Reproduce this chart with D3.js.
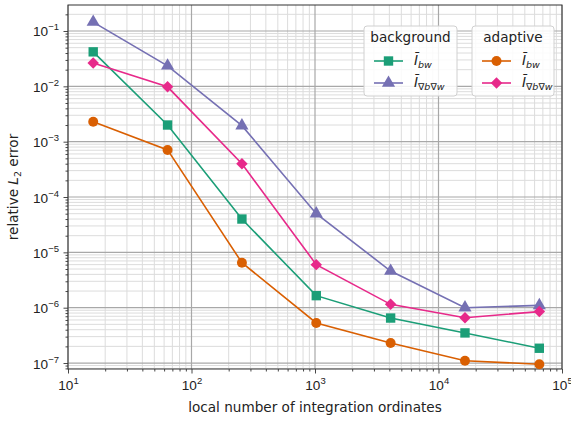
<!DOCTYPE html>
<html>
<head>
<meta charset="utf-8">
<script src="https://cdn.jsdelivr.net/npm/d3@7"></script>
<style>
  body { margin: 0; background: #fff; }
  svg { font-family: "DejaVu Sans", sans-serif; }
</style>
</head>
<body>
<svg id="chart" width="571" height="423"></svg>
<script>
// Local number of integration ordinates (4^2 ... 4^8)
const ordinates = [16, 64, 256, 1024, 4096, 16384, 65536];

// Relative L2 errors
const backgroundBw   = [4.2e-2, 2.0e-3, 4.0e-5, 1.65e-6, 6.5e-7, 3.5e-7, 1.85e-7];
const backgroundGrad = [1.45e-1, 2.35e-2, 1.95e-3, 5.0e-5, 4.6e-6, 1.0e-6, 1.1e-6];
const adaptiveBw     = [2.3e-3, 7.1e-4, 6.5e-6, 5.3e-7, 2.3e-7, 1.1e-7, 9.5e-8];
const adaptiveGrad   = [2.65e-2, 9.8e-3, 4.0e-4, 6.0e-6, 1.15e-6, 6.6e-7, 8.5e-7];

const xTickExps = [1, 2, 3, 4, 5];
const yTickExps = [-7, -6, -5, -4, -3, -2, -1];

const series = [
  { name: "bw",   group: "background", values: backgroundBw,   color: "#1b9e77", marker: "square" },
  { name: "grad", group: "background", values: backgroundGrad, color: "#7570b3", marker: "triangle" },
  { name: "bw",   group: "adaptive",   values: adaptiveBw,     color: "#d95f02", marker: "circle" },
  { name: "grad", group: "adaptive",   values: adaptiveGrad,   color: "#e7298a", marker: "diamond" }
];

const svg = d3.select("#chart");
const W = 571, H = 423;
const margin = { left: 68, right: 9, top: 5, bottom: 54 };
const iw = W - margin.left - margin.right;
const ih = H - margin.top - margin.bottom;
const FS = "13.6px", FS_SUP = "9.5px";

const x = d3.scaleLog().domain([10, 1e5]).range([0, iw]);
const y = d3.scaleLog().domain([7.8e-8, 0.295]).range([ih, 0]);

const g = svg.append("g").attr("transform", `translate(${margin.left},${margin.top})`);

// Minor and major ticks in log space
function minorTicks(lo, hi) {
  const out = [];
  for (let e = lo; e < hi; e++) {
    for (let m = 2; m <= 9; m++) out.push(m * Math.pow(10, e));
  }
  return out;
}
const xMinor = minorTicks(1, 5);
const yMinor = minorTicks(-8, 0).filter(v => v >= y.domain()[0] && v <= y.domain()[1]);
const xMajor = xTickExps.map(e => Math.pow(10, e));
const yMajor = yTickExps.map(e => Math.pow(10, e));

// Grid
const grid = g.append("g");
grid.selectAll(".xminor").data(xMinor).join("line")
  .attr("x1", d => x(d)).attr("x2", d => x(d)).attr("y1", 0).attr("y2", ih)
  .attr("stroke", "#dcdcdc").attr("stroke-width", 1);
grid.selectAll(".yminor").data(yMinor).join("line")
  .attr("x1", 0).attr("x2", iw).attr("y1", d => y(d)).attr("y2", d => y(d))
  .attr("stroke", "#dcdcdc").attr("stroke-width", 1);
grid.selectAll(".xmajor").data(xMajor).join("line")
  .attr("x1", d => x(d)).attr("x2", d => x(d)).attr("y1", 0).attr("y2", ih)
  .attr("stroke", "#a8a8a8").attr("stroke-width", 1.2);
grid.selectAll(".ymajor").data(yMajor).join("line")
  .attr("x1", 0).attr("x2", iw).attr("y1", d => y(d)).attr("y2", d => y(d))
  .attr("stroke", "#a8a8a8").attr("stroke-width", 1.2);

// Axes
const xAxis = d3.axisBottom(x).tickValues(xMajor).tickSize(4.5).tickFormat("");
const yAxis = d3.axisLeft(y).tickValues(yMajor).tickSize(4.5).tickFormat("");
const gx = g.append("g").attr("transform", `translate(0,${ih})`).call(xAxis);
const gy = g.append("g").call(yAxis);
g.append("g").attr("transform", `translate(0,${ih})`)
  .call(d3.axisBottom(x).tickValues(xMinor).tickSize(2.5).tickFormat(""));
g.append("g")
  .call(d3.axisLeft(y).tickValues(yMinor).tickSize(2.5).tickFormat(""));
g.selectAll(".domain").remove();
g.selectAll(".tick line").attr("stroke", "#333").attr("stroke-width", 0.9);

// Tick labels with superscript exponents
gx.selectAll(".tick").each(function(d) {
  const e = Math.round(Math.log10(d));
  const t = d3.select(this).append("text")
    .attr("y", 21).attr("text-anchor", "middle").attr("fill", "#222")
    .style("font-size", FS);
  t.append("tspan").text("10");
  t.append("tspan").attr("dy", -6).style("font-size", FS_SUP).text(e);
});
gy.selectAll(".tick").each(function(d) {
  const e = Math.round(Math.log10(d));
  const t = d3.select(this).append("text")
    .attr("x", -9).attr("y", 5).attr("text-anchor", "end").attr("fill", "#222")
    .style("font-size", FS);
  t.append("tspan").text("10");
  t.append("tspan").attr("dy", -6).style("font-size", FS_SUP).text("\u2212" + Math.abs(e));
});

// Frame
g.append("rect").attr("width", iw).attr("height", ih)
  .attr("fill", "none").attr("stroke", "#333").attr("stroke-width", 1);

// Axis titles
svg.append("text")
  .attr("x", margin.left + iw / 2).attr("y", 412)
  .attr("text-anchor", "middle").attr("fill", "#222").style("font-size", FS)
  .text("local number of integration ordinates");
const yl = svg.append("text")
  .attr("transform", `translate(18,${margin.top + ih / 2}) rotate(-90)`)
  .attr("text-anchor", "middle").attr("fill", "#222").style("font-size", FS);
yl.append("tspan").text("relative ");
yl.append("tspan").style("font-style", "italic").text("L");
yl.append("tspan").attr("dy", 3).style("font-size", FS_SUP).text("2");
yl.append("tspan").attr("dy", -3).text(" error");

// Marker shapes (diamond is a square turned by 45 degrees)
const symbolOf = {
  square: d3.symbol().type(d3.symbolSquare).size(88),
  triangle: d3.symbol().type(d3.symbolTriangle).size(75),
  circle: d3.symbol().type(d3.symbolCircle).size(78),
  diamond: d3.symbol().type(d3.symbolSquare).size(66)
};
const rotOf = m => (m === "diamond" ? " rotate(45)" : "");

const line = d3.line().x(d => x(d[0])).y(d => y(d[1]));
const plot = g.append("g");
series.forEach(s => {
  const pts = ordinates.map((o, i) => [o, s.values[i]]);
  plot.append("path").datum(pts)
    .attr("d", line).attr("fill", "none")
    .attr("stroke", s.color).attr("stroke-width", 1.6);
  plot.selectAll(null).data(pts).join("path")
    .attr("transform", d => `translate(${x(d[0])},${y(d[1])})` + rotOf(s.marker))
    .attr("d", symbolOf[s.marker]())
    .attr("fill", s.color);
});

// Legends: one box per group
const legendBoxes = [
  { title: "background", x0: 364, x1: 457, items: series.slice(0, 2) },
  { title: "adaptive",   x0: 472, x1: 554, items: series.slice(2, 4) }
];
legendBoxes.forEach(lb => {
  const lg = svg.append("g");
  lg.append("rect")
    .attr("x", lb.x0).attr("y", 26).attr("width", lb.x1 - lb.x0).attr("height", 70)
    .attr("rx", 3).attr("fill", "#fff").attr("fill-opacity", 0.85)
    .attr("stroke", "#d0d0d0").attr("stroke-width", 1);
  lg.append("text")
    .attr("x", (lb.x0 + lb.x1) / 2).attr("y", 42)
    .attr("text-anchor", "middle").attr("fill", "#222").style("font-size", FS)
    .text(lb.title);
  lb.items.forEach((s, i) => {
    const yy = 61 + i * 22;
    const hx0 = lb.x0 + 10, hx1 = lb.x0 + 39;
    lg.append("line").attr("x1", hx0).attr("x2", hx1).attr("y1", yy).attr("y2", yy)
      .attr("stroke", s.color).attr("stroke-width", 1.6);
    lg.append("path").attr("transform", `translate(${(hx0 + hx1) / 2},${yy})` + rotOf(s.marker))
      .attr("d", symbolOf[s.marker]()).attr("fill", s.color);
    const t = lg.append("text").attr("x", lb.x0 + 50).attr("y", yy + 4)
      .attr("fill", "#222").style("font-size", FS);
    t.append("tspan").style("font-style", "italic").text("\u012A");
    t.append("tspan").attr("dy", 3).style("font-size", FS_SUP).style("font-style", "italic")
      .text(s.name === "bw" ? "bw" : "\u2207b\u2207w");
  });
});
</script>
</body>
</html>
